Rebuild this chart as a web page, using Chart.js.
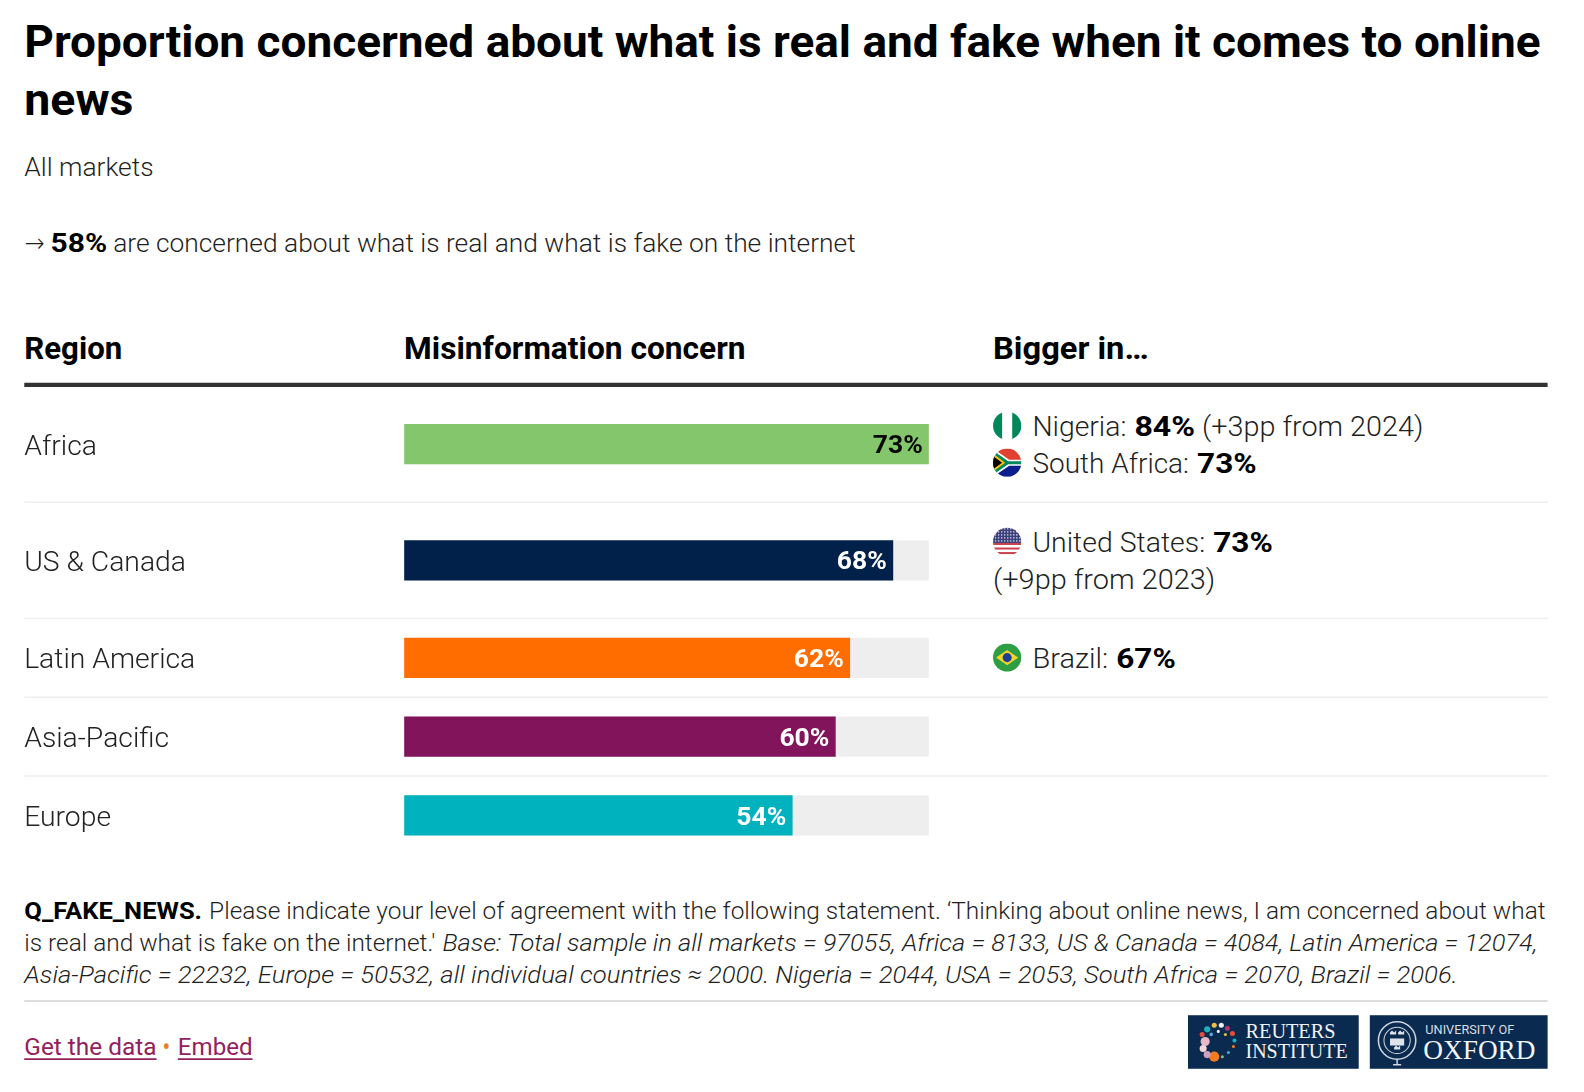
<!DOCTYPE html>
<html><head><meta charset="utf-8">
<script src="https://cdn.jsdelivr.net/npm/chart.js@4/dist/chart.umd.min.js"></script>
<style>
html,body{margin:0;padding:0;background:#fff;width:1584px;height:1092px;overflow:hidden}
#wrap{position:absolute;left:0;top:386px;width:1584px;height:469px}
svg{position:absolute;left:0;top:0}
text{font-family:Roboto,sans-serif}
</style></head><body>
<svg id="over" width="1584" height="1092" viewBox="0 0 1568 1081" xmlns="http://www.w3.org/2000/svg">
<defs>
<clipPath id="cNg"><circle cx="997" cy="421.5" r="14"/></clipPath>
<clipPath id="cZa"><circle cx="997" cy="458" r="14"/></clipPath>
<clipPath id="cUs"><circle cx="997" cy="536.5" r="14"/></clipPath>
<clipPath id="cBr"><circle cx="997" cy="651" r="14"/></clipPath>
<pattern id="stars" width="3" height="3" patternUnits="userSpaceOnUse"><rect width="3" height="3" fill="#3b3f7c"/><circle cx="1.5" cy="1.5" r=".7" fill="#e8e8f2"/></pattern>
</defs>
<line x1="24" x2="1532" y1="381" y2="381" stroke="#333" stroke-width="4"/>
<line x1="24" x2="1532" y1="991" y2="991" stroke="#ddd" stroke-width="2"/>
<g clip-path="url(#cNg)"><rect x="983" y="407" width="28" height="29" fill="#fff"/><rect x="983" y="407" width="9" height="29" fill="#00875a"/><rect x="1002" y="407" width="9" height="29" fill="#00875a"/></g>
<g clip-path="url(#cZa)"><rect x="983" y="444" width="28" height="14" fill="#e0402f"/><rect x="983" y="458" width="28" height="14" fill="#0c1f8c"/><path d="M983 444 L999 455 H1011 V461 H999 L983 472Z" fill="#fff"/><path d="M983 446 L998 456.500 H1011 V459.500 H998 L983 470Z" fill="#00875a"/><path d="M983 449 L995 458 L983 467Z" fill="#f9c21a"/><path d="M983 451.500 L992 458 L983 464.500Z" fill="#000"/></g>
<g clip-path="url(#cUs)"><rect x="983" y="522" width="28" height="29" fill="#fff"/><g fill="#c8434d"><rect x="983" y="524" width="28" height="2"/><rect x="983" y="528.500" width="28" height="2"/><rect x="983" y="533" width="28" height="2"/><rect x="983" y="537.500" width="28" height="2"/><rect x="983" y="542" width="28" height="2"/><rect x="983" y="546.500" width="28" height="2"/></g><rect x="983" y="522" width="28" height="15.500" fill="url(#stars)"/></g>
<g clip-path="url(#cBr)"><rect x="983" y="637" width="28" height="28" fill="#2e9e44"/><path d="M986 651 L997 643.500 L1008 651 L997 658.500Z" fill="#f5d327"/><circle cx="997" cy="651" r="4.500" fill="#1d3f8f"/></g>

<rect x="1176" y="1005" width="169" height="53" fill="#0b2a4f"/>
<rect x="1356" y="1005" width="176" height="53" fill="#0b2a4f"/>
<g>
<circle cx="1193" cy="1031" r="4.500" fill="#e8b7c8"/><circle cx="1191" cy="1038" r="3.500" fill="#f0d6d8"/><circle cx="1202" cy="1046" r="5" fill="#f47b20"/><circle cx="1195" cy="1044" r="3.500" fill="#d0a0c0"/><circle cx="1190" cy="1024" r="2.500" fill="#e0503a"/><circle cx="1195" cy="1019" r="3" fill="#19b3c0"/><circle cx="1202" cy="1015" r="2.500" fill="#f0c040"/><circle cx="1209" cy="1015" r="2.500" fill="#f2f2f2"/><circle cx="1215" cy="1018" r="2.500" fill="#b0356e"/><circle cx="1220" cy="1023" r="2.500" fill="#e0503a"/><circle cx="1222" cy="1030" r="2" fill="#19b3c0"/><circle cx="1221" cy="1036" r="1.500" fill="#f47b20"/><circle cx="1216" cy="1042" r="1.500" fill="#5ba8d8"/><circle cx="1210" cy="1046" r="1.500" fill="#84c76b"/><circle cx="1199" cy="1024" r="1.800" fill="#5ba8d8"/><circle cx="1206" cy="1021" r="1.500" fill="#f2f2f2"/><circle cx="1213" cy="1024" r="1.500" fill="#f0c040"/>
</g>
<g fill="none" stroke="#cfd6df"><circle cx="1383" cy="1030" r="18.500" stroke-width="1.500"/><circle cx="1383" cy="1030" r="13" stroke-width="1"/><path d="M1383 1048.500 v5 M1379 1054 h8" stroke-width="1.500"/></g>
<g fill="#dfe4ea"><rect x="1376" y="1028" width="14" height="7"/><path d="M1376 1022 l2 -2 l2 2 l2 -2 v4 h-6z M1384 1022 l2 -2 l2 2 l2 -2 v4 h-6z M1380 1037 l2 -2 l2 2 l2 -2 v4 h-6z"/></g>
</svg>
<div id="wrap"><canvas id="c" width="1584" height="469"></canvas></div>
<script>
const regions = ["Africa","US & Canada","Latin America","Asia-Pacific","Europe"];
const concern = [73,68,62,60,54];
const track = [73,73,73,73,73];
const barColors = ["#84c66b","#01214a","#ff6c00","#82145c","#00b2bd"];
const labelColors = ["#0a0a0a","#fff","#fff","#fff","#fff"];
const rowHeights = [116.2,116.2,78.8,78.8,78.8];

class RowScale extends Chart.CategoryScale {
  getPixelForValue(value){
    if (typeof value !== 'number') value = this.parse(value);
    if (value === null) return NaN;
    let y = this.top;
    for (let i=0;i<value;i++) y += rowHeights[i];
    return y + rowHeights[value]/2;
  }
  getPixelForTick(index){
    return this.getPixelForValue(this.ticks[index].value) + 3.5;
  }
}
RowScale.id='rows';
RowScale.defaults=Chart.CategoryScale.defaults;
Chart.register(RowScale);

const deco = {
  id:'deco',
  beforeDatasetsDraw(ch){
    const c=ch.ctx,s=ch.scales.y;let y=s.top;
    c.save();c.strokeStyle='#eeeeee';c.lineWidth=1.5;
    rowHeights.slice(0,-1).forEach(h=>{y+=h;c.beginPath();c.moveTo(24.2,y);c.lineTo(1548,y);c.stroke();});
    c.restore();
  },
  afterDatasetsDraw(ch){
    const c=ch.ctx,m=ch.getDatasetMeta(0);
    c.save();c.font='700 26.5px Roboto';c.textAlign='right';c.textBaseline='middle';
    m.data.forEach((b,i)=>{c.fillStyle=labelColors[i];c.fillText(concern[i]+'%',b.x-6,b.y+2.5);});
    c.restore();
  }
};
new Chart(document.getElementById('c'),{
  type:'bar',
  data:{labels:regions,datasets:[
    {data:concern,backgroundColor:barColors,barThickness:39.6,grouped:false,order:0},
    {data:track,backgroundColor:'#eeeeee',barThickness:39.6,grouped:false,order:1}
  ]},
  plugins:[deco],
  options:{
    indexAxis:'y',responsive:false,animation:false,events:[],
    layout:{padding:{left:24.2,right:655.2,top:0,bottom:0}},
    plugins:{legend:{display:false},tooltip:{enabled:false}},
    scales:{
      x:{display:false,min:0,max:73},
      y:{type:'rows',offset:true,
        afterFit(s){s.width=380;s.paddingTop=0;s.paddingBottom=0;s.paddingLeft=0;s.paddingRight=0;},
        grid:{display:false},border:{display:false},
        ticks:{crossAlign:'far',autoSkip:false,color:'#222',padding:0,font:{family:'Roboto',size:28.3,weight:'300'}}}
    }
  }
});

// x, baseline, right edge, size, weight, style, text, colour
const L='#1f1f1f',B='#000';
const texts=[
 [24,56.5,1525,44,700,'normal',"Proportion concerned about what is real and fake when it comes to online",B],
 [24,114,132,44,700,'normal',"news",B],
 [24,174,152,26,300,'normal',"All markets",L],
 [24,249,44,26,300,'arrow',"→",L],
 [50,249,106,26,700,'normal',"58%",B],
 [112,249,847,26,300,'normal',"are concerned about what is real and what is fake on the internet",L],
 [24,355,121,31,700,'normal',"Region",B],
 [400,355,738,31,700,'normal',"Misinformation concern",B],
 [983,355,1137,31,700,'normal',"Bigger in…",B],
 [1022,432,1115,28,300,'normal',"Nigeria:",L],
 [1123,432,1183,28,700,'normal',"84%",B],
 [1190,432,1409,28,300,'normal',"(+3pp from 2024)",L],
 [1022,468,1177,28,300,'normal',"South Africa:",L],
 [1185,468,1244,28,700,'normal',"73%",B],
 [1022,546.5,1193,28,300,'normal',"United States:",L],
 [1201,546.5,1260,28,700,'normal',"73%",B],
 [983,583,1203,28,300,'normal',"(+9pp from 2023)",L],
 [1022,661,1097,28,300,'normal',"Brazil:",L],
 [1105,661,1164,28,700,'normal',"67%",B],
 [24,910,200,24.5,700,'normal',"Q_FAKE_NEWS.",B],
 [207,910,1530,24.5,300,'normal',"Please indicate your level of agreement with the following statement. ‘Thinking about online news, I am concerned about what",L],
 [24,941.5,431,24.5,300,'normal',"is real and what is fake on the internet.'",L],
 [438,941.5,1522,24.5,300,'italic',"Base: Total sample in all markets = 97055, Africa = 8133, US & Canada = 4084, Latin America = 12074,",L],
 [24,973.5,1443,24.5,300,'italic',"Asia-Pacific = 22232, Europe = 50532, all individual countries ≈ 2000. Nigeria = 2044, USA = 2053, South Africa = 2070, Brazil = 2006.",L],
 [24,1044.5,155,24.5,400,'normal',"Get the data",'#93215e'],
 [161,1044.5,168,24.5,700,'normal',"•",'#f07d1a'],
 [176,1044.5,250,24.5,400,'normal',"Embed",'#93215e'],
 [1233,1028,1322,20,400,'serif',"REUTERS",'#f2f4f7'],
 [1233,1047,1334,20,400,'serif',"INSTITUTE",'#f2f4f7'],
 [1411,1024,1499,12.5,400,'normal',"UNIVERSITY OF",'#d8dee6'],
 [1409,1048,1520,27,400,'serif',"OXFORD",'#f2f4f7'],
];
const over=document.getElementById('over'),NS='http://www.w3.org/2000/svg';
texts.forEach(([x,y,r,size,w,st,t,col])=>{
  const e=document.createElementNS(NS,'text');
  e.setAttribute('x',x);e.setAttribute('y',y);
  e.setAttribute('font-size',size);e.setAttribute('font-weight',w);
  if(st==='italic')e.setAttribute('font-style','italic');
  if(st==='serif')e.style.fontFamily='"Liberation Serif",serif';
  if(st==='arrow')e.style.fontFamily='"DejaVu Sans",sans-serif';
  e.setAttribute('fill',col);
  e.setAttribute('textLength',r-x);e.setAttribute('lengthAdjust','spacingAndGlyphs');
  e.textContent=t;
  over.appendChild(e);
  if(col==='#93215e'){
    const u=document.createElementNS(NS,'line');
    u.setAttribute('x1',x);u.setAttribute('x2',r);u.setAttribute('y1',y+4);u.setAttribute('y2',y+4);
    u.setAttribute('stroke',col);u.setAttribute('stroke-width',1.6);over.appendChild(u);
  }
});
</script>
</body></html>
